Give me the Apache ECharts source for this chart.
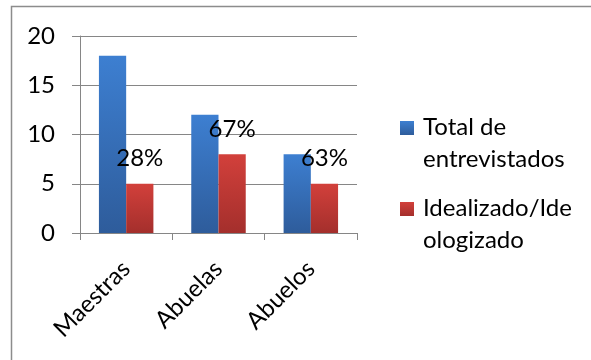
<!DOCTYPE html>
<html>
<head>
<meta charset="utf-8">
<script src="https://cdn.jsdelivr.net/npm/echarts@6/dist/echarts.min.js"></script>
<style>
  html, body { margin: 0; padding: 0; background: #fff; }
  #chart { width: 591px; height: 360px; }
</style>
</head>
<body>
<div id="chart"></div>
<script>
// Interview groups and counts
var categories = ['Maestras', 'Abuelas', 'Abuelos'];
var seriesNames = ['Total de entrevistados', 'Idealizado/Ideologizado'];
var legendLines = [['Total de', 'entrevistados'], ['Idealizado/Ide', 'ologizado']];
var totalValues = [18, 12, 8];
var idealizedValues = [5, 8, 5];
var idealizedPercent = ['28%', '67%', '63%'];
var yTicks = [0, 5, 10, 15, 20];

var FONT = 'Lato, "Open Sans", sans-serif';
var blueGrad = new echarts.graphic.LinearGradient(0, 0, 0, 1, [
  { offset: 0, color: '#3d7fd1' }, { offset: 1, color: '#2e5c9b' }
]);
var redGrad = new echarts.graphic.LinearGradient(0, 0, 0, 1, [
  { offset: 0, color: '#d2403b' }, { offset: 1, color: '#a42f2c' }
]);
var swatchColors = [blueGrad, redGrad];

var chart = echarts.init(document.getElementById('chart'), null, { renderer: 'canvas' });

// Legend drawn as a graphic group: square swatch aligned with the first text line
var legendItems = [];
var legendTops = [111, 192];
seriesNames.forEach(function (name, i) {
  var top = legendTops[i];
  legendItems.push({
    type: 'rect',
    shape: { x: 400, y: top + 10, width: 14, height: 14 },
    style: { fill: swatchColors[i] }
  });
  legendItems.push({
    type: 'text',
    x: 423, y: top,
    style: {
      text: legendLines[i].join('\n'),
      font: '24px ' + FONT,
      fill: '#000',
      lineHeight: 32,
      verticalAlign: 'top'
    }
  });
});

chart.setOption({
  animation: false,
  backgroundColor: '#fff',
  grid: { left: 80, right: 234, top: 36, bottom: 127, containLabel: false },
  xAxis: {
    type: 'category',
    data: categories,
    axisLine: { lineStyle: { color: '#868686', width: 1 } },
    axisTick: { show: true, length: 7, lineStyle: { color: '#868686' } },
    axisLabel: {
      rotate: 45,
      margin: 32,
      fontSize: 24,
      fontFamily: FONT,
      color: '#000'
    }
  },
  yAxis: {
    type: 'value',
    min: yTicks[0],
    max: yTicks[yTicks.length - 1],
    interval: 5,
    axisLine: { show: true, lineStyle: { color: '#868686' } },
    axisTick: { show: true, length: 8, lineStyle: { color: '#868686' } },
    splitLine: { show: true, lineStyle: { color: '#868686', width: 1 } },
    axisLabel: {
      margin: 25,
      fontSize: 24,
      fontFamily: FONT,
      color: '#000'
    }
  },
  series: [
    {
      name: seriesNames[0],
      type: 'bar',
      data: totalValues,
      barGap: '0%',
      barCategoryGap: '41%',
      itemStyle: { color: blueGrad }
    },
    {
      name: seriesNames[1],
      type: 'bar',
      data: idealizedValues,
      itemStyle: { color: redGrad },
      label: {
        show: true,
        position: 'top',
        distance: 13,
        fontSize: 24,
        fontFamily: FONT,
        color: '#000',
        formatter: function (p) { return idealizedPercent[p.dataIndex]; }
      }
    }
  ],
  graphic: [
    {
      type: 'rect',
      shape: { x: 11.5, y: 6.5, width: 620, height: 400 },
      style: { fill: 'none', stroke: '#8c8c8c', lineWidth: 1.5 },
      z: 10
    }
  ].concat(legendItems)
});
</script>
</body>
</html>
